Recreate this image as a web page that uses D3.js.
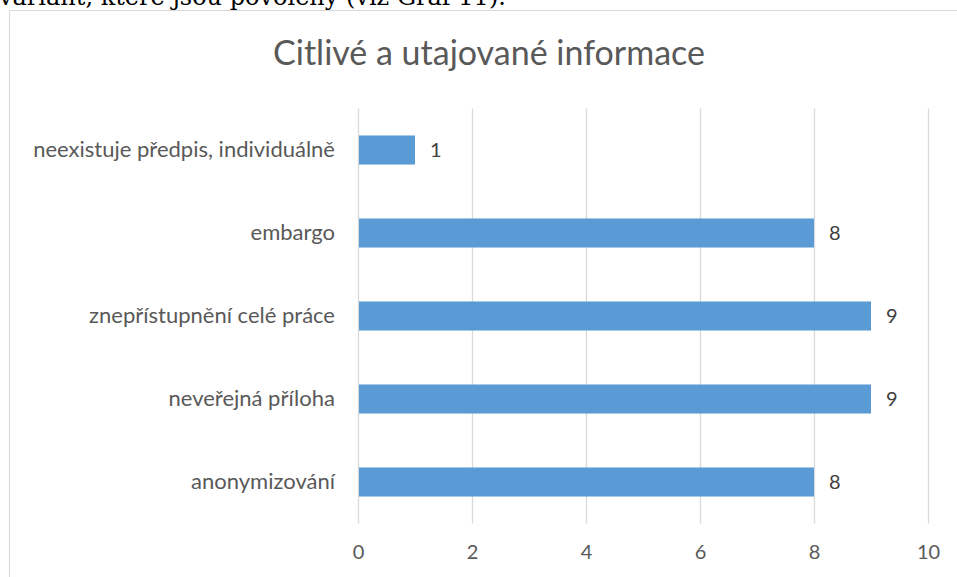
<!DOCTYPE html>
<html>
<head>
<meta charset="utf-8">
<script src="https://cdn.jsdelivr.net/npm/d3@7"></script>
<style>
  body { margin: 0; background: #fff; }
  svg { display: block; }
</style>
</head>
<body>
<div id="chart"></div>
<script>
var categories = [
  "neexistuje předpis, individuálně",
  "embargo",
  "znepřístupnění celé práce",
  "neveřejná příloha",
  "anonymizování"
];
var values = [1, 8, 9, 9, 8];
var xTicks = [0, 2, 4, 6, 8, 10];
var title = "Citlivé a utajované informace";
var pageText = "variant, které jsou povoleny (viz Graf 11).";

var svgWidth = 957;
var svgHeight = 577;

var margin = { top: 108.5, left: 358, right: 29, bottom: 53.5 };
var width = svgWidth - margin.left - margin.right;
var height = svgHeight - margin.top - margin.bottom;

var svg = d3.select("#chart")
  .append("svg")
  .attr("width", svgWidth)
  .attr("height", svgHeight);

// text of the page above the chart (cut off)
svg.append("text")
  .attr("x", -1)
  .attr("y", 5)
  .attr("font-family", "'DejaVu Serif', serif")
  .attr("font-size", 24)
  .attr("fill", "#000")
  .text(pageText);

// chart frame
svg.append("rect")
  .attr("x", 9.5)
  .attr("y", 10.5)
  .attr("width", 1000)
  .attr("height", 700)
  .attr("fill", "#fff")
  .attr("stroke", "#d9d9d9")
  .attr("stroke-width", 1);

svg.append("text")
  .attr("x", 489)
  .attr("y", 65)
  .attr("text-anchor", "middle")
  .attr("font-family", "Lato, sans-serif")
  .attr("font-size", 34)
  .attr("fill", "#595959")
  .text(title);

var g = svg.append("g")
  .attr("transform", "translate(" + margin.left + "," + margin.top + ")");

var x = d3.scaleLinear()
  .domain([0, 10])
  .range([0, width]);

var y = d3.scaleBand()
  .domain(categories)
  .range([0, height])
  .paddingInner(0.65)
  .paddingOuter(0.325);

// gridlines
g.append("g")
  .selectAll("line")
  .data(xTicks)
  .enter()
  .append("line")
  .attr("x1", d => Math.round(x(d)) + 0.5)
  .attr("x2", d => Math.round(x(d)) + 0.5)
  .attr("y1", 0)
  .attr("y2", height)
  .attr("stroke", "#d9d9d9")
  .attr("stroke-width", 1.3);

var xAxis = g.append("g")
  .attr("transform", "translate(0," + height + ")")
  .call(d3.axisBottom(x).tickValues(xTicks).tickSize(0).tickPadding(21));
xAxis.select(".domain").remove();
xAxis.selectAll("text")
  .attr("font-family", "Lato, sans-serif")
  .attr("font-size", 20)
  .attr("fill", "#595959");

var yAxis = g.append("g")
  .call(d3.axisLeft(y).tickSize(0).tickPadding(23));
yAxis.select(".domain").remove();
yAxis.selectAll("text")
  .attr("font-family", "Lato, sans-serif")
  .attr("font-size", 22)
  .attr("fill", "#595959");

g.append("g")
  .selectAll("rect")
  .data(values)
  .enter()
  .append("rect")
  .attr("x", x(0) + 1)
  .attr("y", (d, i) => y(categories[i]))
  .attr("width", d => x(d) - x(0) - 1)
  .attr("height", y.bandwidth())
  .attr("fill", "#5b9bd5");

g.append("g")
  .selectAll("text")
  .data(values)
  .enter()
  .append("text")
  .attr("x", d => x(d) + 15)
  .attr("y", (d, i) => y(categories[i]) + y.bandwidth() / 2)
  .attr("dy", "0.35em")
  .attr("font-family", "Lato, sans-serif")
  .attr("font-size", 20)
  .attr("fill", "#404040")
  .text(d => d);
</script>
</body>
</html>
